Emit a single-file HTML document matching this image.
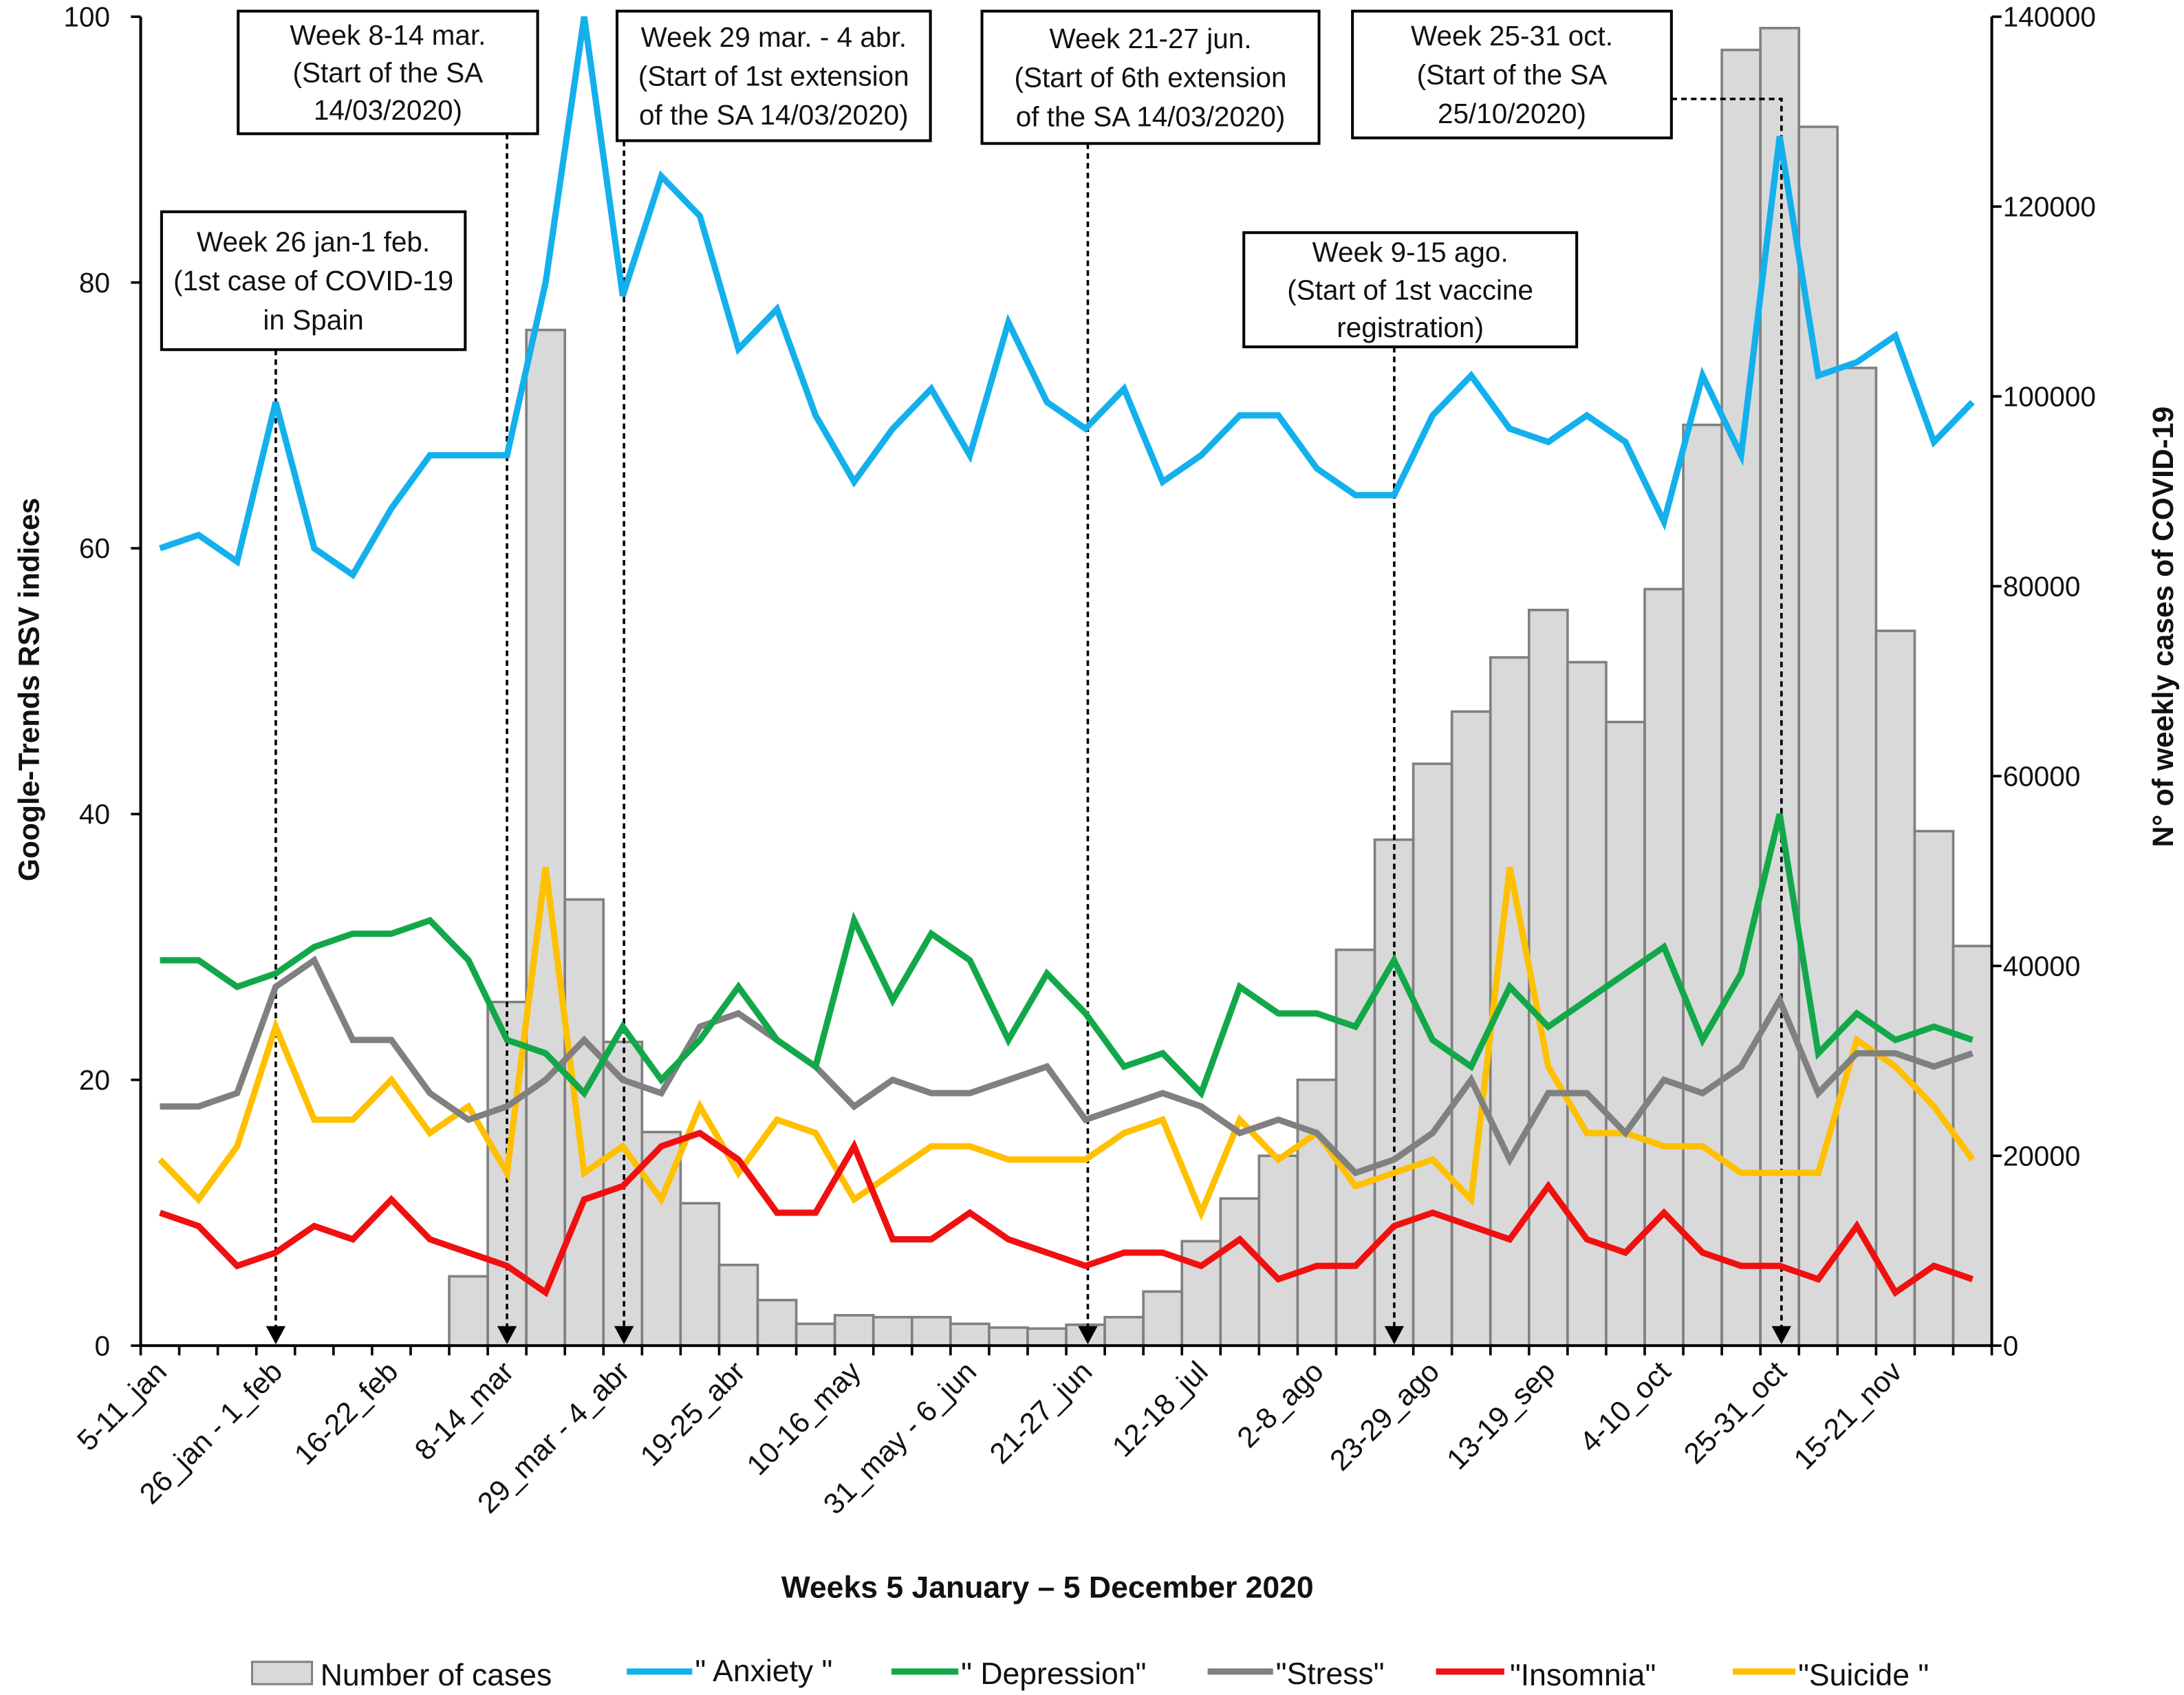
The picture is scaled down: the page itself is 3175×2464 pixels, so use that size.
<!DOCTYPE html>
<html><head><meta charset="utf-8"><style>
html,body{margin:0;padding:0;background:#fff}
svg{display:block}
text{font-family:"Liberation Sans",sans-serif;fill:#111}
</style></head><body>
<svg id="chart" width="3175" height="2464" viewBox="0 0 1568 1216.8" preserveAspectRatio="none" xmlns="http://www.w3.org/2000/svg"></svg>
<script>
const weeks = 48;
const tickLabels = ["5-11_jan","26_jan - 1_feb","16-22_feb","8-14_mar","29_mar - 4_abr","19-25_abr","10-16_may","31_may - 6_jun","21-27_jun","12-18_jul","2-8_ago","23-29_ago","13-19_sep","4-10_oct","25-31_oct","15-21_nov"];
const cases = [0,0,0,0,0,0,0,0,7300,36200,107000,47000,32000,22500,15000,8500,4800,2300,3200,3000,3000,2300,1900,1800,2200,3000,5700,11000,15500,20000,28000,41700,53300,61300,66800,72500,77500,72000,65700,79700,97000,136500,138800,128400,103000,75300,54200,42100];
const anxiety = [60,61,59,71,60,58,63,67,67,67,80,100,79,88,85,75,78,70,65,69,72,67,77,71,69,72,65,67,70,70,66,64,64,70,73,69,68,70,68,62,73,67,91,73,74,76,68,71];
const depression = [29,29,27,28,30,31,31,32,29,23,22,19,24,20,23,27,23,21,32,26,31,29,23,28,25,21,22,19,27,25,25,24,29,23,21,27,24,26,28,30,23,28,40,22,25,23,24,23];
const stress = [18,18,19,27,29,23,23,19,17,18,20,23,20,19,24,25,23,21,18,20,19,19,20,21,17,18,19,18,16,17,16,13,14,16,20,14,19,19,16,20,19,21,26,19,22,22,21,22];
const insomnia = [10,9,6,7,9,8,11,8,7,6,4,11,12,15,16,14,10,10,15,8,8,10,8,7,6,7,7,6,8,5,6,6,9,10,9,8,12,8,7,10,7,6,6,5,9,4,6,5];
const suicide = [14,11,15,24,17,17,20,16,18,13,36,13,15,11,18,13,17,16,11,13,15,15,14,14,14,16,17,10,17,14,16,12,13,14,11,36,21,16,16,15,15,13,13,13,23,21,18,14];
const leftTicks = [0,20,40,60,80,100];
const rightTicks = [0,20000,40000,60000,80000,100000,120000,140000];

const NS="http://www.w3.org/2000/svg";
const svg=document.getElementById('chart');
const X0=101,X1=1430,Y0=966,Y1=12;
const bw=(X1-X0)/weeks;
function xc(i){return X0+bw*(i+0.5);}
function yl(v){return Y0-(v/100)*(Y0-Y1);}
function yr(v){return Y0-(v/140000)*(Y0-Y1);}
function mk(tag,attrs,parent){const e=document.createElementNS(NS,tag);for(const k in attrs)e.setAttribute(k,attrs[k]);(parent||svg).appendChild(e);return e;}
function txt(s,attrs,parent){const e=mk('text',attrs,parent);e.textContent=s;return e;}

const gb=mk('g',{});


cases.forEach((v,i)=>{ if(v<=0)return;
  const r=mk('rect',{x:X0+bw*i,y:yr(v),width:bw,height:Y0-yr(v),fill:'#d9d9d9',stroke:'#808080','stroke-width':1.8},gb);
  
  
});

const ann=[
 {lines:["Week 26 jan-1 feb.","(1st case of COVID-19","in Spain"],x:116,y:152,w:218,h:99,ax:198,name:'annotation-first-case'},
 {lines:["Week 8-14 mar.","(Start of the SA","14/03/2020)"],x:171,y:8,w:215,h:88,ax:364,name:'annotation-sa-start'},
 {lines:["Week 29 mar. - 4 abr.","(Start of 1st extension","of the SA 14/03/2020)"],x:443,y:8,w:225,h:93,ax:448,name:'annotation-first-extension'},
 {lines:["Week 21-27 jun.","(Start of  6th extension","of the SA 14/03/2020)"],x:705,y:8,w:242,h:95,ax:781,name:'annotation-sixth-extension'},
 {lines:["Week 25-31 oct.","(Start of the SA","25/10/2020)"],x:971,y:8,w:229,h:91,ax:1279,elbow:71,name:'annotation-second-sa'},
 {lines:["Week 9-15 ago.","(Start of 1st vaccine","registration)"],x:893,y:167,w:239,h:82,ax:1001,name:'annotation-vaccine'}
];
ann.forEach(a=>{
  const g=mk('g',{});
  
  
  if(a.elbow){
    mk('path',{d:`M${a.x+a.w},${a.elbow} H${a.ax} V${Y0-12}`,fill:'none',stroke:'#000','stroke-width':1.8,'stroke-dasharray':'4,3'},g);
  } else {
    mk('line',{x1:a.ax,y1:a.y+a.h,x2:a.ax,y2:Y0-12,stroke:'#000','stroke-width':1.8,'stroke-dasharray':'4,3'},g);
  }
  mk('path',{d:`M${a.ax-7},${Y0-14} L${a.ax+7},${Y0-14} L${a.ax},${Y0-1} Z`,fill:'#000'},g);
  mk('rect',{x:a.x,y:a.y,width:a.w,height:a.h,fill:'#fff',stroke:'#000','stroke-width':2},g);
  const lh=a.h>90?28:27;
  const start=a.y+a.h/2-lh+7;
  a.lines.forEach((l,k)=>txt(l,{x:a.x+a.w/2,y:start+k*lh,'text-anchor':'middle','font-size':20},g));
});

function series(arr,color,name){
  const p=mk('polyline',{points:arr.map((v,i)=>xc(i)+','+yl(v)).join(' '),fill:'none',stroke:color,'stroke-width':4.5,'stroke-linejoin':'miter'});
  
  
}
series(suicide,'#ffc000','suicide-line');
series(insomnia,'#f01010','insomnia-line');
series(stress,'#808080','stress-line');
series(depression,'#12a84a','depression-line');
series(anxiety,'#13b0ec','anxiety-line');

const ax=mk('g',{});


mk('line',{x1:X0,y1:Y1,x2:X0,y2:Y0,stroke:'#000','stroke-width':2},ax);
mk('line',{x1:X1,y1:Y1,x2:X1,y2:Y0,stroke:'#000','stroke-width':2},ax);
mk('line',{x1:X0,y1:Y0,x2:X1,y2:Y0,stroke:'#000','stroke-width':2},ax);
for(let i=0;i<=weeks;i++){mk('line',{x1:X0+bw*i,y1:Y0,x2:X0+bw*i,y2:Y0+7,stroke:'#000','stroke-width':1.8},ax);}
leftTicks.forEach(v=>{
  mk('line',{x1:X0-7,y1:yl(v),x2:X0,y2:yl(v),stroke:'#000','stroke-width':1.8},ax);
  const t=txt(String(v),{x:X0-22,y:yl(v)+7,'text-anchor':'end','font-size':20},ax);
  
  
});
rightTicks.forEach(v=>{
  mk('line',{x1:X1,y1:yr(v),x2:X1+7,y2:yr(v),stroke:'#000','stroke-width':1.8},ax);
  const t=txt(String(v),{x:X1+8,y:yr(v)+7,'font-size':20},ax);
  
  
});
tickLabels.forEach((l,k)=>{
  const i=k*3; const x=xc(i)+6, y=Y0+20;
  const t=txt(l,{x:x,y:y,'text-anchor':'end','font-size':21,transform:`rotate(-45 ${x} ${y})`},ax);
  
  
});
</script>
<svg style="position:absolute;left:0;top:0" width="3175" height="2464" viewBox="0 0 1568 1216.8" preserveAspectRatio="none" xmlns="http://www.w3.org/2000/svg">
<text x="28" y="495" transform="rotate(-90 28 495)" text-anchor="middle" font-size="21" font-weight="bold">Google-Trends RSV indices</text>
<text x="1560" y="450" transform="rotate(-90 1560 450)" text-anchor="middle" font-size="21" font-weight="bold">N° of weekly cases of COVID-19</text>
<text x="752" y="1147" text-anchor="middle" font-size="22" font-weight="bold">Weeks 5 January – 5 December 2020</text>
<g font-size="22">
<g><rect x="181" y="1193" width="43" height="16" fill="#d9d9d9" stroke="#808080" stroke-width="1.5"/><text x="230" y="1210">Number of cases</text></g>
<g><line x1="450" y1="1200" x2="497" y2="1200" stroke="#13b0ec" stroke-width="4.5"/><text x="499" y="1207">" Anxiety  "</text></g>
<g><line x1="640" y1="1200" x2="688" y2="1200" stroke="#12a84a" stroke-width="4.5"/><text x="690" y="1209">" Depression"</text></g>
<g><line x1="867" y1="1200" x2="914" y2="1200" stroke="#808080" stroke-width="4.5"/><text x="916" y="1209">"Stress"</text></g>
<g><line x1="1031" y1="1200" x2="1080" y2="1200" stroke="#f01010" stroke-width="4.5"/><text x="1084" y="1210">"Insomnia"</text></g>
<g><line x1="1244" y1="1200" x2="1289" y2="1200" stroke="#ffc000" stroke-width="4.5"/><text x="1291" y="1210">"Suicide "</text></g>
</g>
</svg>
</body></html>
